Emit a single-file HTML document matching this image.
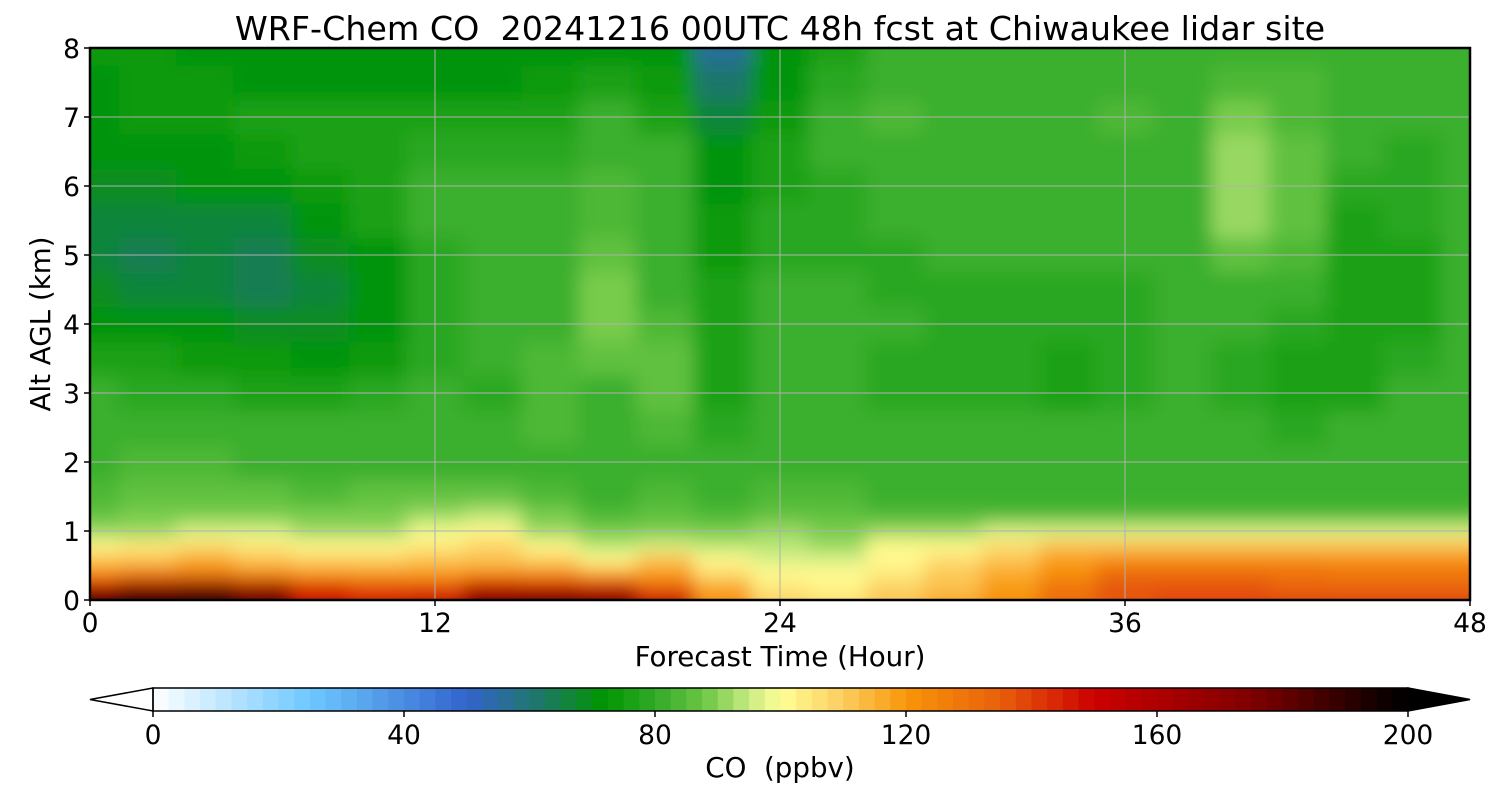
<!DOCTYPE html>
<html><head><meta charset="utf-8">
<style>
body{margin:0;background:#fff;}
svg{display:block;font-family:"DejaVu Sans","Liberation Sans",sans-serif;}
</style></head>
<body>
<svg id="chart" width="1500" height="800" viewBox="0 0 1500 800">
<defs>
<clipPath id="plotclip"><rect x="90" y="48" width="1380" height="552"/></clipPath>
<filter id="smooth" x="-5%" y="-5%" width="110%" height="110%"><feGaussianBlur stdDeviation="9" edgeMode="duplicate"/></filter>
</defs>
<text x="780" y="40" font-size="33.3" text-anchor="middle" style="white-space:pre">WRF-Chem CO  20241216 00UTC 48h fcst at Chiwaukee lidar site</text>
<g clip-path="url(#plotclip)"><g id="field" filter="url(#smooth)"></g></g>
<g id="grid"></g>
<rect x="90" y="48" width="1380" height="552" fill="none" stroke="#000" stroke-width="2.5"/>
<g id="axes"></g>
<text x="780" y="666" font-size="27.7" text-anchor="middle">Forecast Time (Hour)</text>
<text transform="translate(50,324) rotate(-90)" font-size="27.7" text-anchor="middle">Alt AGL (km)</text>
<g id="cbar"></g>
<text x="780" y="777" font-size="27.7" text-anchor="middle" style="white-space:pre">CO  (ppbv)</text>
</svg>
<script>
const times=[0,2,4,6,8,10,12,14,16,18,20,22,24,26,28,30,32,34,36,38,40,42,44,46,48];
const alts=[0.05,0.2,0.4,0.6,0.8,1.0,1.25,1.5,2,2.5,3,3.5,4,4.5,5,5.5,6,6.5,7,7.5,8];
const co=[
[190,195,195,180,150,145,150,175,180,175,150,120,108,105,110,115,120,130,135,138,138,138,138,138,138],
[150,165,170,160,140,135,135,150,145,145,130,115,104,102,108,112,118,128,135,135,135,132,132,132,132],
[120,125,125,120,118,118,118,120,120,115,118,105,100,100,104,110,115,122,130,132,130,130,128,128,128],
[110,112,115,112,108,108,110,112,108,102,110,100,96,96,102,106,112,118,122,122,120,120,120,120,120],
[102,104,106,104,100,100,104,108,100,94,96,94,93,92,100,102,106,110,112,112,110,110,110,110,110],
[92,92,95,95,92,92,98,102,92,88,88,88,90,88,90,92,95,96,96,96,96,95,95,95,95],
[86,88,88,88,88,88,92,94,88,84,86,84,86,86,84,84,84,84,84,84,84,84,84,84,84],
[83,86,86,86,84,85,86,87,84,82,84,82,84,84,82,82,82,82,82,82,82,82,82,82,82],
[80,84,83,82,80,82,82,82,82,80,82,80,82,80,80,80,80,80,80,80,81,80,81,81,81],
[80,82,80,80,80,82,82,80,84,80,84,78,82,80,80,80,80,80,80,80,80,79,80,80,80],
[80,79,78,77,77,79,80,78,84,82,86,76,80,80,79,78,78,76,79,80,78,77,77,80,82],
[77,75,74,73,72,74,78,80,84,86,86,76,80,80,79,78,78,75,78,80,78,77,76,78,82],
[72,70,70,68,68,72,78,80,82,88,84,76,80,80,80,79,79,78,79,80,80,78,77,77,82],
[68,66,67,64,66,70,78,80,82,88,82,75,80,80,78,79,79,79,79,80,82,80,77,77,80],
[66,64,66,64,68,72,78,80,82,86,80,74,78,78,78,80,80,80,80,80,86,84,77,77,80],
[67,66,66,67,70,75,80,80,82,84,80,73,78,78,80,80,80,80,80,82,90,86,77,78,80],
[68,68,70,72,74,77,80,80,80,84,82,72,76,78,80,82,80,80,80,82,92,86,78,78,80],
[70,72,72,74,75,77,78,78,79,82,80,71,76,80,82,82,80,80,80,82,90,86,80,78,80],
[72,74,74,75,75,75,75,75,77,80,77,66,74,80,84,82,82,82,84,82,88,84,82,80,80],
[72,73,73,72,72,72,72,72,74,76,74,60,72,78,82,82,82,82,82,82,84,84,82,80,80],
[73,73,72,71,70,70,70,70,70,72,70,55,70,76,80,80,80,82,82,80,82,82,80,80,80]
];
const xTicks=[0,12,24,36,48];
const yTicks=[0,1,2,3,4,5,6,7,8];
const cbTicks=[0,40,80,120,160,200];

const X0=90,X1=1470,Y0=600,Y1=48;
const xs=t=>X0+(t-0)/48*(X1-X0);
const ys=a=>Y0-(a-0)/8*(Y0-Y1);
const stops=[[0,[255,255,255]],[25,[110,200,255]],[50,[50,100,205]],[62,[30,120,100]],[72,[0,150,0]],[80,[50,170,40]],[88,[110,200,70]],[95,[200,235,130]],[100,[255,255,150]],[110,[252,205,95]],[120,[248,150,10]],[135,[232,95,10]],[150,[204,0,0]],[175,[128,0,0]],[195,[20,0,0]],[200,[0,0,0]]];
function color(v){
  v=Math.max(0,Math.min(200,Math.floor(v/2.5)*2.5+1.25));
  for(let i=1;i<stops.length;i++){if(v<=stops[i][0]){const a=stops[i-1],b=stops[i];const f=(v-a[0])/(b[0]-a[0]);
    return 'rgb('+a[1].map((c,k)=>Math.round(c+(b[1][k]-c)*f)).join(',')+')';}}
  return 'rgb(0,0,0)';
}
const NS='http://www.w3.org/2000/svg';
function mk(tag,attrs,parent){const e=document.createElementNS(NS,tag);for(const k in attrs)e.setAttribute(k,attrs[k]);parent.appendChild(e);return e;}
const field=document.getElementById('field');
for(let r=0;r<alts.length;r++){
  const aLo=r===0?-0.5:(alts[r-1]+alts[r])/2, aHi=r===alts.length-1?8.5:(alts[r]+alts[r+1])/2;
  for(let c=0;c<times.length;c++){
    const tLo=c===0?-2:(times[c-1]+times[c])/2, tHi=c===times.length-1?50:(times[c]+times[c+1])/2;
    const el=mk('rect',{x:xs(tLo),y:ys(aHi),width:xs(tHi)-xs(tLo)+0.5,height:ys(aLo)-ys(aHi)+0.5,fill:color(co[r][c])},field);
    
    
  }
}
const grid=document.getElementById('grid'),axes=document.getElementById('axes');
xTicks.forEach(t=>{
  if(t>0&&t<48){const l=mk('line',{x1:xs(t),x2:xs(t),y1:Y1,y2:Y0,stroke:'#b0b0b0','stroke-width':1},grid);}
  mk('line',{x1:xs(t),x2:xs(t),y1:Y0,y2:Y0+6,stroke:'#000','stroke-width':1.5},axes);
  const tx=mk('text',{x:xs(t),y:632,'font-size':26.5,'text-anchor':'middle'},axes);tx.textContent=t;
  
  
});
yTicks.forEach(a=>{
  if(a>0&&a<8){const l=mk('line',{x1:X0,x2:X1,y1:ys(a),y2:ys(a),stroke:'#b0b0b0','stroke-width':1},grid);}
  mk('line',{x1:X0-6,x2:X0,y1:ys(a),y2:ys(a),stroke:'#000','stroke-width':1.5},axes);
  const tx=mk('text',{x:80,y:ys(a)+10,'font-size':26.5,'text-anchor':'end'},axes);tx.textContent=a;
  
  
});
const cb=document.getElementById('cbar');
const C0=153,C1=1408,CT=688,CB=711;
const cs=v=>C0+v/200*(C1-C0);
for(let v=0;v<200;v+=2.5){mk('rect',{x:cs(v),y:CT,width:cs(2.5)-cs(0)+0.6,height:CB-CT,fill:color(v)},cb);}
mk('polygon',{points:`${C0},${CT} 90,${(CT+CB)/2} ${C0},${CB}`,fill:'#fff',stroke:'#000','stroke-width':1.5},cb);
mk('polygon',{points:`${C1},${CT} 1470,${(CT+CB)/2} ${C1},${CB}`,fill:'#000',stroke:'#000','stroke-width':1.5},cb);
mk('rect',{x:C0,y:CT,width:C1-C0,height:CB-CT,fill:'none',stroke:'#000','stroke-width':1.5},cb);
cbTicks.forEach(v=>{
  mk('line',{x1:cs(v),x2:cs(v),y1:CB,y2:CB+6,stroke:'#000','stroke-width':1.5},cb);
  const tx=mk('text',{x:cs(v),y:744,'font-size':26.5,'text-anchor':'middle'},cb);tx.textContent=v;
  
  
});
</script>
</body></html>
